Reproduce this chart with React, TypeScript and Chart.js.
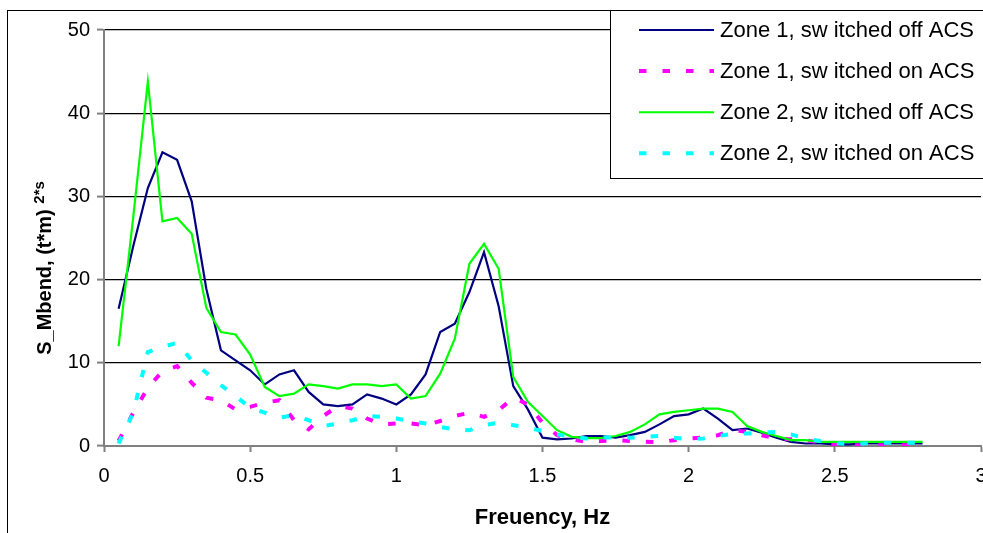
import React, { useEffect, useRef } from "react";
import { Chart, registerables } from "chart.js";

Chart.register(...registerables);

const frequencies = [
  0.05, 0.1, 0.15, 0.2, 0.25, 0.3, 0.35, 0.4, 0.45, 0.5,
  0.55, 0.6, 0.65, 0.7, 0.75, 0.8, 0.85, 0.9, 0.95, 1.0,
  1.05, 1.1, 1.15, 1.2, 1.25, 1.3, 1.35, 1.4, 1.45, 1.5,
  1.55, 1.6, 1.65, 1.7, 1.75, 1.8, 1.85, 1.9, 1.95, 2.0,
  2.05, 2.1, 2.15, 2.2, 2.25, 2.3, 2.35, 2.4, 2.45, 2.5,
  2.55, 2.6, 2.65, 2.7, 2.75, 2.8,
];

const zone1Off = [
  16.5, 24.0, 31.0, 35.3, 34.4, 29.4, 18.9, 11.5, 10.3, 9.1,
  7.4, 8.6, 9.1, 6.5, 5.0, 4.8, 5.0, 6.2, 5.7, 5.0,
  6.2, 8.6, 13.7, 14.7, 18.5, 23.3, 16.8, 7.2, 4.4, 1.0,
  0.8, 0.9, 1.2, 1.2, 1.0, 1.3, 1.7, 2.6, 3.6, 3.8,
  4.5, 3.3, 1.9, 2.1, 1.6, 1.0, 0.5, 0.3, 0.3, 0.2,
  0.2, 0.3, 0.3, 0.3, 0.3, 0.3,
];

const zone1On = [
  0.6, 4.0, 7.0, 9.0, 9.6, 7.6, 5.8, 5.5, 4.4, 4.7,
  5.2, 5.5, 3.1, 2.0, 3.6, 4.8, 4.5, 3.3, 2.6, 2.7,
  2.7, 2.5, 3.0, 3.6, 4.0, 3.5, 4.3, 5.8, 5.0, 2.8,
  1.3, 0.8, 0.5, 0.6, 0.7, 0.6, 0.5, 0.45, 0.7, 0.9,
  1.0, 1.3, 1.9, 1.7, 1.3, 0.9, 0.8, 0.7, 0.4, 0.2,
  0.1, 0.1, 0.1, 0.1, 0.1, 0.1,
];

const zone2Off = [
  12.0, 27.5, 43.8, 27.0, 27.4, 25.5, 16.6, 13.7, 13.4, 11.0,
  7.1, 6.0, 6.3, 7.4, 7.2, 6.9, 7.4, 7.4, 7.2, 7.4,
  5.7, 6.0, 8.7, 12.9, 21.9, 24.3, 21.3, 8.3, 5.3, 3.6,
  1.9, 1.1, 0.95, 0.95, 1.2, 1.7, 2.6, 3.8, 4.1, 4.3,
  4.5, 4.5, 4.1, 2.4, 1.7, 1.2, 0.7, 0.7, 0.5, 0.5,
  0.5, 0.5, 0.5, 0.5, 0.5, 0.5,
];

const zone2On = [
  0.3, 4.0, 11.3, 11.9, 12.4, 10.3, 8.8, 7.3, 6.0, 4.6,
  4.0, 3.4, 3.7, 3.1, 2.4, 2.7, 3.1, 3.6, 3.5, 3.3,
  3.0, 2.7, 2.3, 2.0, 1.9, 2.5, 2.8, 2.5, 2.2, 1.8,
  1.4, 1.1, 0.9, 1.0, 1.05, 1.0, 1.1, 1.2, 1.0, 0.8,
  0.9, 1.2, 1.45, 1.5, 1.6, 1.7, 1.4, 0.9, 0.6, 0.35,
  0.25, 0.3, 0.4, 0.4, 0.4, 0.4,
];

const seriesLabels = [
  "Zone 1, sw itched off ACS",
  "Zone 1, sw itched on ACS",
  "Zone 2, sw itched off ACS",
  "Zone 2, sw itched on ACS",
];

const xTitle = "Freuency, Hz";
const yTitleMain = "S_Mbend, (t*m) ";
const yTitleSup = "2*s";

const FONT = '"Liberation Sans", Arial, sans-serif';
const CANVAS_W = 1010;
const CANVAS_H = 533;

const toPoints = (vals: number[]) => frequencies.map((f, i) => ({ x: f, y: vals[i] }));

const decorPlugin = {
  id: "decor",
  afterDraw(chart: any) {
    const ctx = chart.ctx as CanvasRenderingContext2D;
    ctx.save();
    // outer chart frame
    ctx.strokeStyle = "#000";
    ctx.lineWidth = 1;
    ctx.setLineDash([]);
    ctx.strokeRect(7.5, 10.5, 1200, 700);

    // legend box
    ctx.fillStyle = "#fff";
    ctx.fillRect(610, 10, 600, 168);
    ctx.strokeStyle = "#000";
    ctx.strokeRect(610.5, 10.5, 600, 168);
    chart.data.datasets.forEach((ds: any, i: number) => {
      const y = 30 + i * 41.1;
      ctx.beginPath();
      ctx.setLineDash(ds.borderDash || []);
      ctx.lineCap = "butt";
      ctx.lineWidth = ds.borderWidth === 4 ? 4 : 2;
      ctx.strokeStyle = ds.borderColor;
      ctx.moveTo(639, y);
      ctx.lineTo(714, y);
      ctx.stroke();
      ctx.setLineDash([]);
      ctx.fillStyle = "#000";
      ctx.font = `22px ${FONT}`;
      ctx.textAlign = "left";
      ctx.textBaseline = "alphabetic";
      ctx.fillText(ds.label, 720, y + 7);
    });

    // y axis title with superscript
    const mainFont = `bold 20px ${FONT}`;
    const supFont = `bold 15px ${FONT}`;
    ctx.font = mainFont;
    const wMain = ctx.measureText(yTitleMain).width;
    ctx.font = supFont;
    const wSup = ctx.measureText(yTitleSup).width;
    const total = wMain + wSup;
    const area = chart.chartArea;
    ctx.translate(51, (area.top + area.bottom) / 2 + 30);
    ctx.rotate(-Math.PI / 2);
    ctx.fillStyle = "#000";
    ctx.textAlign = "left";
    ctx.textBaseline = "alphabetic";
    ctx.font = mainFont;
    ctx.fillText(yTitleMain, -total / 2, 0);
    ctx.font = supFont;
    ctx.fillText(yTitleSup, -total / 2 + wMain, -7);
    ctx.restore();
  },
};

export default function App() {
  const canvasRef = useRef<HTMLCanvasElement | null>(null);

  useEffect(() => {
    const canvas = canvasRef.current;
    if (!canvas) return;
    Chart.defaults.font.family = FONT;
    Chart.defaults.color = "#000";

    const chart = new Chart(canvas, {
      type: "line",
      data: {
        datasets: [
          {
            label: seriesLabels[0],
            data: toPoints(zone1Off),
            borderColor: "#000080",
            borderWidth: 2.2,
            pointRadius: 0,
            tension: 0,
            order: 4,
          },
          {
            label: seriesLabels[1],
            data: toPoints(zone1On),
            borderColor: "#FF00FF",
            borderWidth: 4,
            borderDash: [7.5, 16],
            borderCapStyle: "butt",
            pointRadius: 0,
            tension: 0,
            order: 3,
          },
          {
            label: seriesLabels[2],
            data: toPoints(zone2Off),
            borderColor: "#00FF00",
            borderWidth: 2.2,
            pointRadius: 0,
            tension: 0,
            order: 2,
          },
          {
            label: seriesLabels[3],
            data: toPoints(zone2On),
            borderColor: "#00FFFF",
            borderWidth: 4,
            borderDash: [7.5, 16],
            borderCapStyle: "butt",
            pointRadius: 0,
            tension: 0,
            order: 1,
          },
        ],
      },
      options: {
        responsive: false,
        animation: false,
        events: [],
        layout: { padding: { left: 0, top: 30, right: CANVAS_W - 981, bottom: 0 } },
        plugins: {
          legend: { display: false },
          tooltip: { enabled: false },
          title: { display: false },
        },
        scales: {
          x: {
            type: "linear",
            min: 0,
            max: 3,
            afterFit: (s: any) => {
              s.height = CANVAS_H - 446;
            },
            ticks: {
              stepSize: 0.5,
              autoSkip: false,
              maxRotation: 0,
              padding: 12,
              color: "#000",
              font: { size: 20, family: FONT },
              callback: (v: any) => String(Number(v)),
            },
            grid: {
              drawOnChartArea: false,
              drawTicks: true,
              tickLength: 6,
              tickColor: "#808080",
              tickWidth: 2,
            },
            border: { display: true, color: "#808080", width: 2 },
            title: {
              display: true,
              text: xTitle,
              color: "#000",
              font: { size: 22, weight: "bold", family: FONT },
              padding: { top: 0, bottom: 2 },
            },
          },
          y: {
            min: 0,
            max: 50,
            afterFit: (s: any) => {
              s.width = 104;
            },
            ticks: {
              stepSize: 10,
              padding: 7,
              color: "#000",
              font: { size: 20, family: FONT },
              callback: (v: any) => String(Number(v)),
            },
            grid: {
              color: (c: any) => (c.tick && c.tick.value === 0 ? "rgba(0,0,0,0)" : "#000"),
              lineWidth: 1.2,
              drawTicks: true,
              tickLength: 7,
              tickColor: "#808080",
              tickWidth: 2,
            },
            border: { display: true, color: "#808080", width: 2 },
          },
        },
      },
      plugins: [decorPlugin],
    } as any);

    return () => chart.destroy();
  }, []);

  return (
    <div
      style={{
        position: "fixed",
        left: 0,
        top: 0,
        width: 983,
        height: 533,
        overflow: "hidden",
        background: "#fff",
      }}
    >
      <canvas
        ref={canvasRef}
        width={CANVAS_W}
        height={CANVAS_H}
        style={{ display: "block", width: CANVAS_W, height: CANVAS_H }}
      />
    </div>
  );
}
